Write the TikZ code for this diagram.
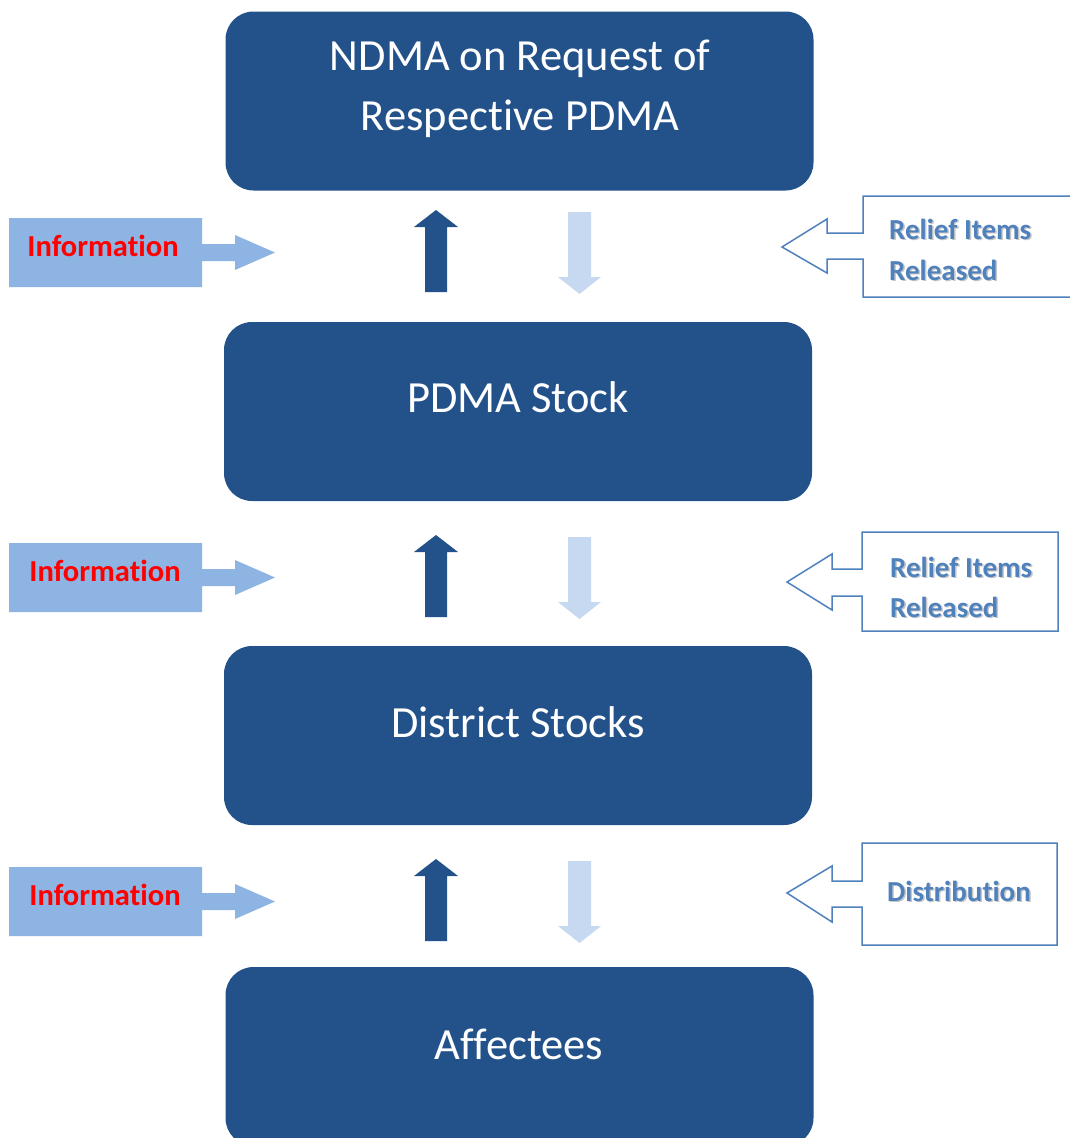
\documentclass[tikz,border=0pt]{standalone}
\usepackage{fontspec}
\setmainfont{Carlito}[Ligatures=NoCommon]
\definecolor{boxblue}{HTML}{23528A}
\definecolor{infoblue}{HTML}{8EB4E3}
\definecolor{paleblue}{HTML}{C6D9F1}
\definecolor{calloutblue}{HTML}{4F81BD}
\begin{document}
\begin{tikzpicture}[x=1pt,y=-1pt,
  stockbox/.style={fill=boxblue, draw=none, rounded corners=28pt, inner sep=0pt, minimum width=588pt, minimum height=179pt},
  boxtext/.style={text=white, font=\fontsize{44.5}{60}\selectfont, anchor=base, inner sep=0pt},
  infotext/.style={text=red, font=\fontsize{30.5}{34}\selectfont\bfseries, anchor=base, inner sep=0pt},
  relieftext/.style={text=calloutblue, font=\fontsize{29}{34}\selectfont\bfseries, anchor=base west, inner sep=0pt},
  reliefshadow/.style={text=black!22, font=\fontsize{29}{34}\selectfont\bfseries, anchor=base west, inner sep=0pt},
  uparrow/.style={fill=boxblue},
  downarrow/.style={fill=paleblue},
  infoarrow/.style={fill=infoblue},
  callout/.style={draw=calloutblue, line width=1.5pt, fill=white, line join=miter}]
\useasboundingbox (0,0) rectangle (1070,1138);
\fill[white] (0,0) rectangle (1070,1138);

% main boxes
\node[stockbox] (ndma) at (519.5,101) {};
\node[stockbox] (pdma) at (518,411.5) {};
\node[stockbox] (dist) at (518,735.5) {};
\node[stockbox] (aff) at (519.5,1056.5) {};

\node[boxtext] (ndmaA) at (520,70) {NDMA on Request of};
\node[boxtext] (ndmaB) at (520,130) {Respective PDMA};
\node[boxtext] (pdmaT) at (518,412.5) {PDMA Stock};
\node[boxtext] (distT) at (518,737) {District Stocks};
\node[boxtext] (affT) at (519,1059) {Affectees};

% up / down block arrows and information arrows
\foreach \dy in {0,325,649} {
  \fill[uparrow] (436,210+\dy) -- (458,227+\dy) -- (447,227+\dy) -- (447,292+\dy)
     -- (425,292+\dy) -- (425,227+\dy) -- (414,227+\dy) -- cycle;
  \fill[downarrow] (568,212+\dy) -- (591,212+\dy) -- (591,277+\dy) -- (601,277+\dy)
     -- (579.5,294+\dy) -- (558,277+\dy) -- (568,277+\dy) -- cycle;
  \fill[infoarrow] (9,218+\dy) -- (202,218+\dy) -- (202,244+\dy) -- (235,244+\dy)
     -- (235,235+\dy) -- (275,252.5+\dy) -- (235,270+\dy) -- (235,261+\dy)
     -- (202,261+\dy) -- (202,287+\dy) -- (9,287+\dy) -- cycle;
}
\node[infotext] (info1) at (103,256) {Information};
\node[infotext] (info2) at (105,581) {Information};
\node[infotext] (info3) at (105,905) {Information};

% relief callouts
\draw[callout] (863,233) -- (863,196) -- (1076,196) -- (1076,297) -- (863,297)
   -- (863,259) -- (827,259) -- (827,273) -- (782,247) -- (827,219) -- (827,233) -- cycle;
\draw[callout] (862,569) -- (862,532) -- (1058,532) -- (1058,631) -- (862,631)
   -- (862,596) -- (832,596) -- (832,610) -- (787,582) -- (832,554) -- (832,569) -- cycle;
\draw[callout] (862,881) -- (862,843) -- (1057,843) -- (1057,945) -- (862,945)
   -- (862,907) -- (832,907) -- (832,922) -- (787,893) -- (832,866) -- (832,881) -- cycle;

\node[reliefshadow] (r1as) at (890.5,240.5) {Relief Items};
\node[reliefshadow] (r1bs) at (890.5,281.5) {Released};
\node[reliefshadow] (r2as) at (891.5,578.5) {Relief Items};
\node[reliefshadow] (r2bs) at (891.5,618.5) {Released};
\node[reliefshadow] (r3s) at (888.5,902.5) {Distribution};
\node[relieftext] (r1a) at (889,239) {Relief Items};
\node[relieftext] (r1b) at (889,280) {Released};
\node[relieftext] (r2a) at (890,577) {Relief Items};
\node[relieftext] (r2b) at (890,617) {Released};
\node[relieftext] (r3) at (887,901) {Distribution};
\end{tikzpicture}
\end{document}
